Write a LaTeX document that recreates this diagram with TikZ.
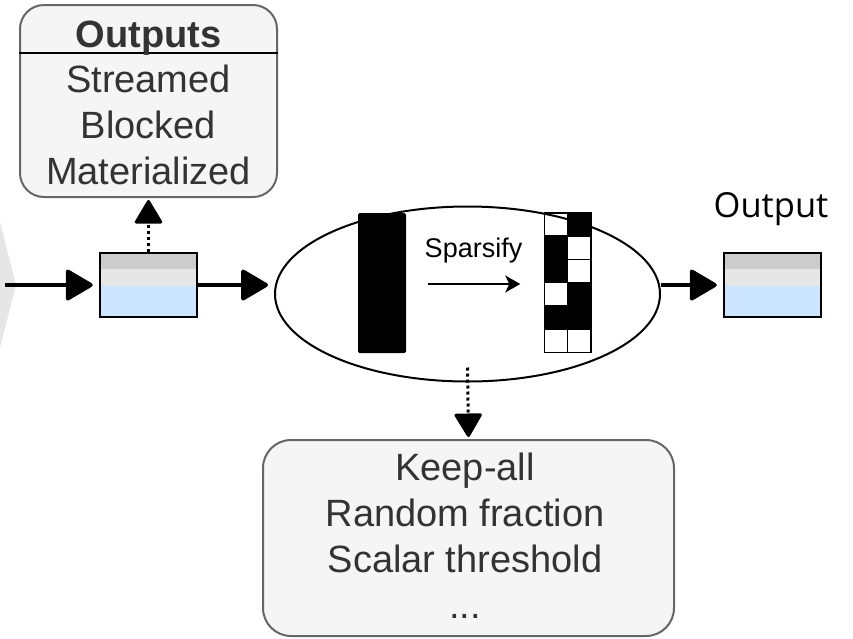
\documentclass[tikz,border=0pt]{standalone}
\usepackage{fontspec}
\setmainfont{Liberation Sans}
\newfontfamily\labelfont{Open Sans}
\usetikzlibrary{arrows.meta,shapes.geometric}
\definecolor{boxfill}{HTML}{F5F5F5}
\definecolor{boxline}{HTML}{666666}
\definecolor{boxtext}{HTML}{333333}
\definecolor{qdark}{HTML}{CCCCCC}
\definecolor{qlight}{HTML}{E6E6E6}
\definecolor{qblue}{HTML}{CCE5FF}
\definecolor{chevron}{HTML}{E6E6E6}
\begin{document}
\begin{tikzpicture}[x=1pt,y=-1pt,
  optbox/.style={draw=boxline, fill=boxfill, line width=2pt, rounded corners=24pt, inner sep=0},
  boxtxt/.style={text=boxtext, font=\fontsize{38}{46}\selectfont, align=center, inner sep=0},
  queue/.style={draw, line width=2.5pt, minimum width=97pt, minimum height=64pt, inner sep=0,
    path picture={
      \fill[qblue] (path picture bounding box.north west) rectangle (path picture bounding box.south east);
      \fill[qlight] (path picture bounding box.north west) rectangle ([yshift=-33pt]path picture bounding box.north east);
      \fill[qdark] (path picture bounding box.north west) rectangle ([yshift=-16pt]path picture bounding box.north east);
    }},
  flow/.style={line width=4pt, -{Triangle[length=29pt,width=33pt,round]}, shorten >=6pt},
  dotflow/.style={line width=3pt, dash pattern=on 3pt off 3pt, -{Triangle[length=25pt,width=29pt,round]}, shorten >=2pt},
]
\useasboundingbox (0,0) rectangle (853,638);

% incoming stage hint at the left edge
\fill[chevron] (0,222) -- (16,285) -- (0,348) -- cycle;
\coordinate (src) at (5,285);

% option boxes
\node[optbox, minimum width=257pt, minimum height=192pt] (outs) at (148.5,101) {};
\draw[line width=2pt] (outs.west |- 0,52.5) -- (outs.east |- 0,52.5);
\node[text=boxtext, font=\fontsize{38}{46}\selectfont\bfseries, anchor=base, inner sep=0] (outshead) at (148.5,47) {Outputs};
\node[boxtxt] (outsitems) at (148.5,124.7) {Streamed\\Blocked\\Materialized};

\node[optbox, rounded corners=28pt, minimum width=411pt, minimum height=196pt] (modes) at (468.5,538) {};
\node[boxtxt] (modesitems) at (465,536) {Keep-all\\Random fraction\\Scalar threshold\\...};

% queues
\node[queue] (qin) at (148.5,285) {};
\node[queue] (qout) at (772.5,285) {};
\node[font=\labelfont\fontsize{34.5}{40}\selectfont, anchor=base, inner sep=0] (outlabel) at (771,217) {Output};

% sparsify operator
\node[draw, ellipse, line width=2pt, minimum width=385pt, minimum height=175pt, inner sep=0] (op) at (467.5,294) {};
\node[fill=black, minimum width=48pt, minimum height=140pt, inner sep=0, rounded corners=1.5pt] (dense) at (382,283) {};
\node[minimum width=46.5pt, minimum height=139.5pt, inner sep=0, outer sep=0] (sparse) at (567.5,282.5) {};
\begin{scope}[shift={(sparse.north west)}]
  \foreach \c/\r in {1/0,0/1,0/2,1/3,0/4,1/4}
    \fill (\c*23.25,\r*23.25) rectangle ++(23.25,23.25);
  \foreach \r in {1,...,5}
    \draw[line width=1.5pt] (0,\r*23.25) -- (46.5,\r*23.25);
  \draw[line width=1.5pt] (23.25,0) -- (23.25,139.5);
\end{scope}
\draw[line width=1.5pt] (sparse.north west) rectangle (sparse.south east);
\node[font=\fontsize{27}{30}\selectfont, anchor=base, inner sep=0] (sparsifylabel) at (473.5,257) {Sparsify};
\draw[line width=1.5pt, -{Stealth[length=15pt,width=17pt,inset=4pt]}]
  ([xshift=22pt]dense.east |- 0,284) -- ([xshift=-24pt]sparse.west |- 0,284);

% data flow
\draw[flow] (src) -- (qin.west);
\draw[flow] (qin.east) -- (qin.east -| op.west);
\draw[flow] (qin.east -| op.east) -- (qout.west);

% configuration links
\draw[dotflow] (qin.north) -- (outs.south);
\draw[dotflow] ([yshift=15pt]op.south) -- (modes.north);
\end{tikzpicture}
\end{document}
